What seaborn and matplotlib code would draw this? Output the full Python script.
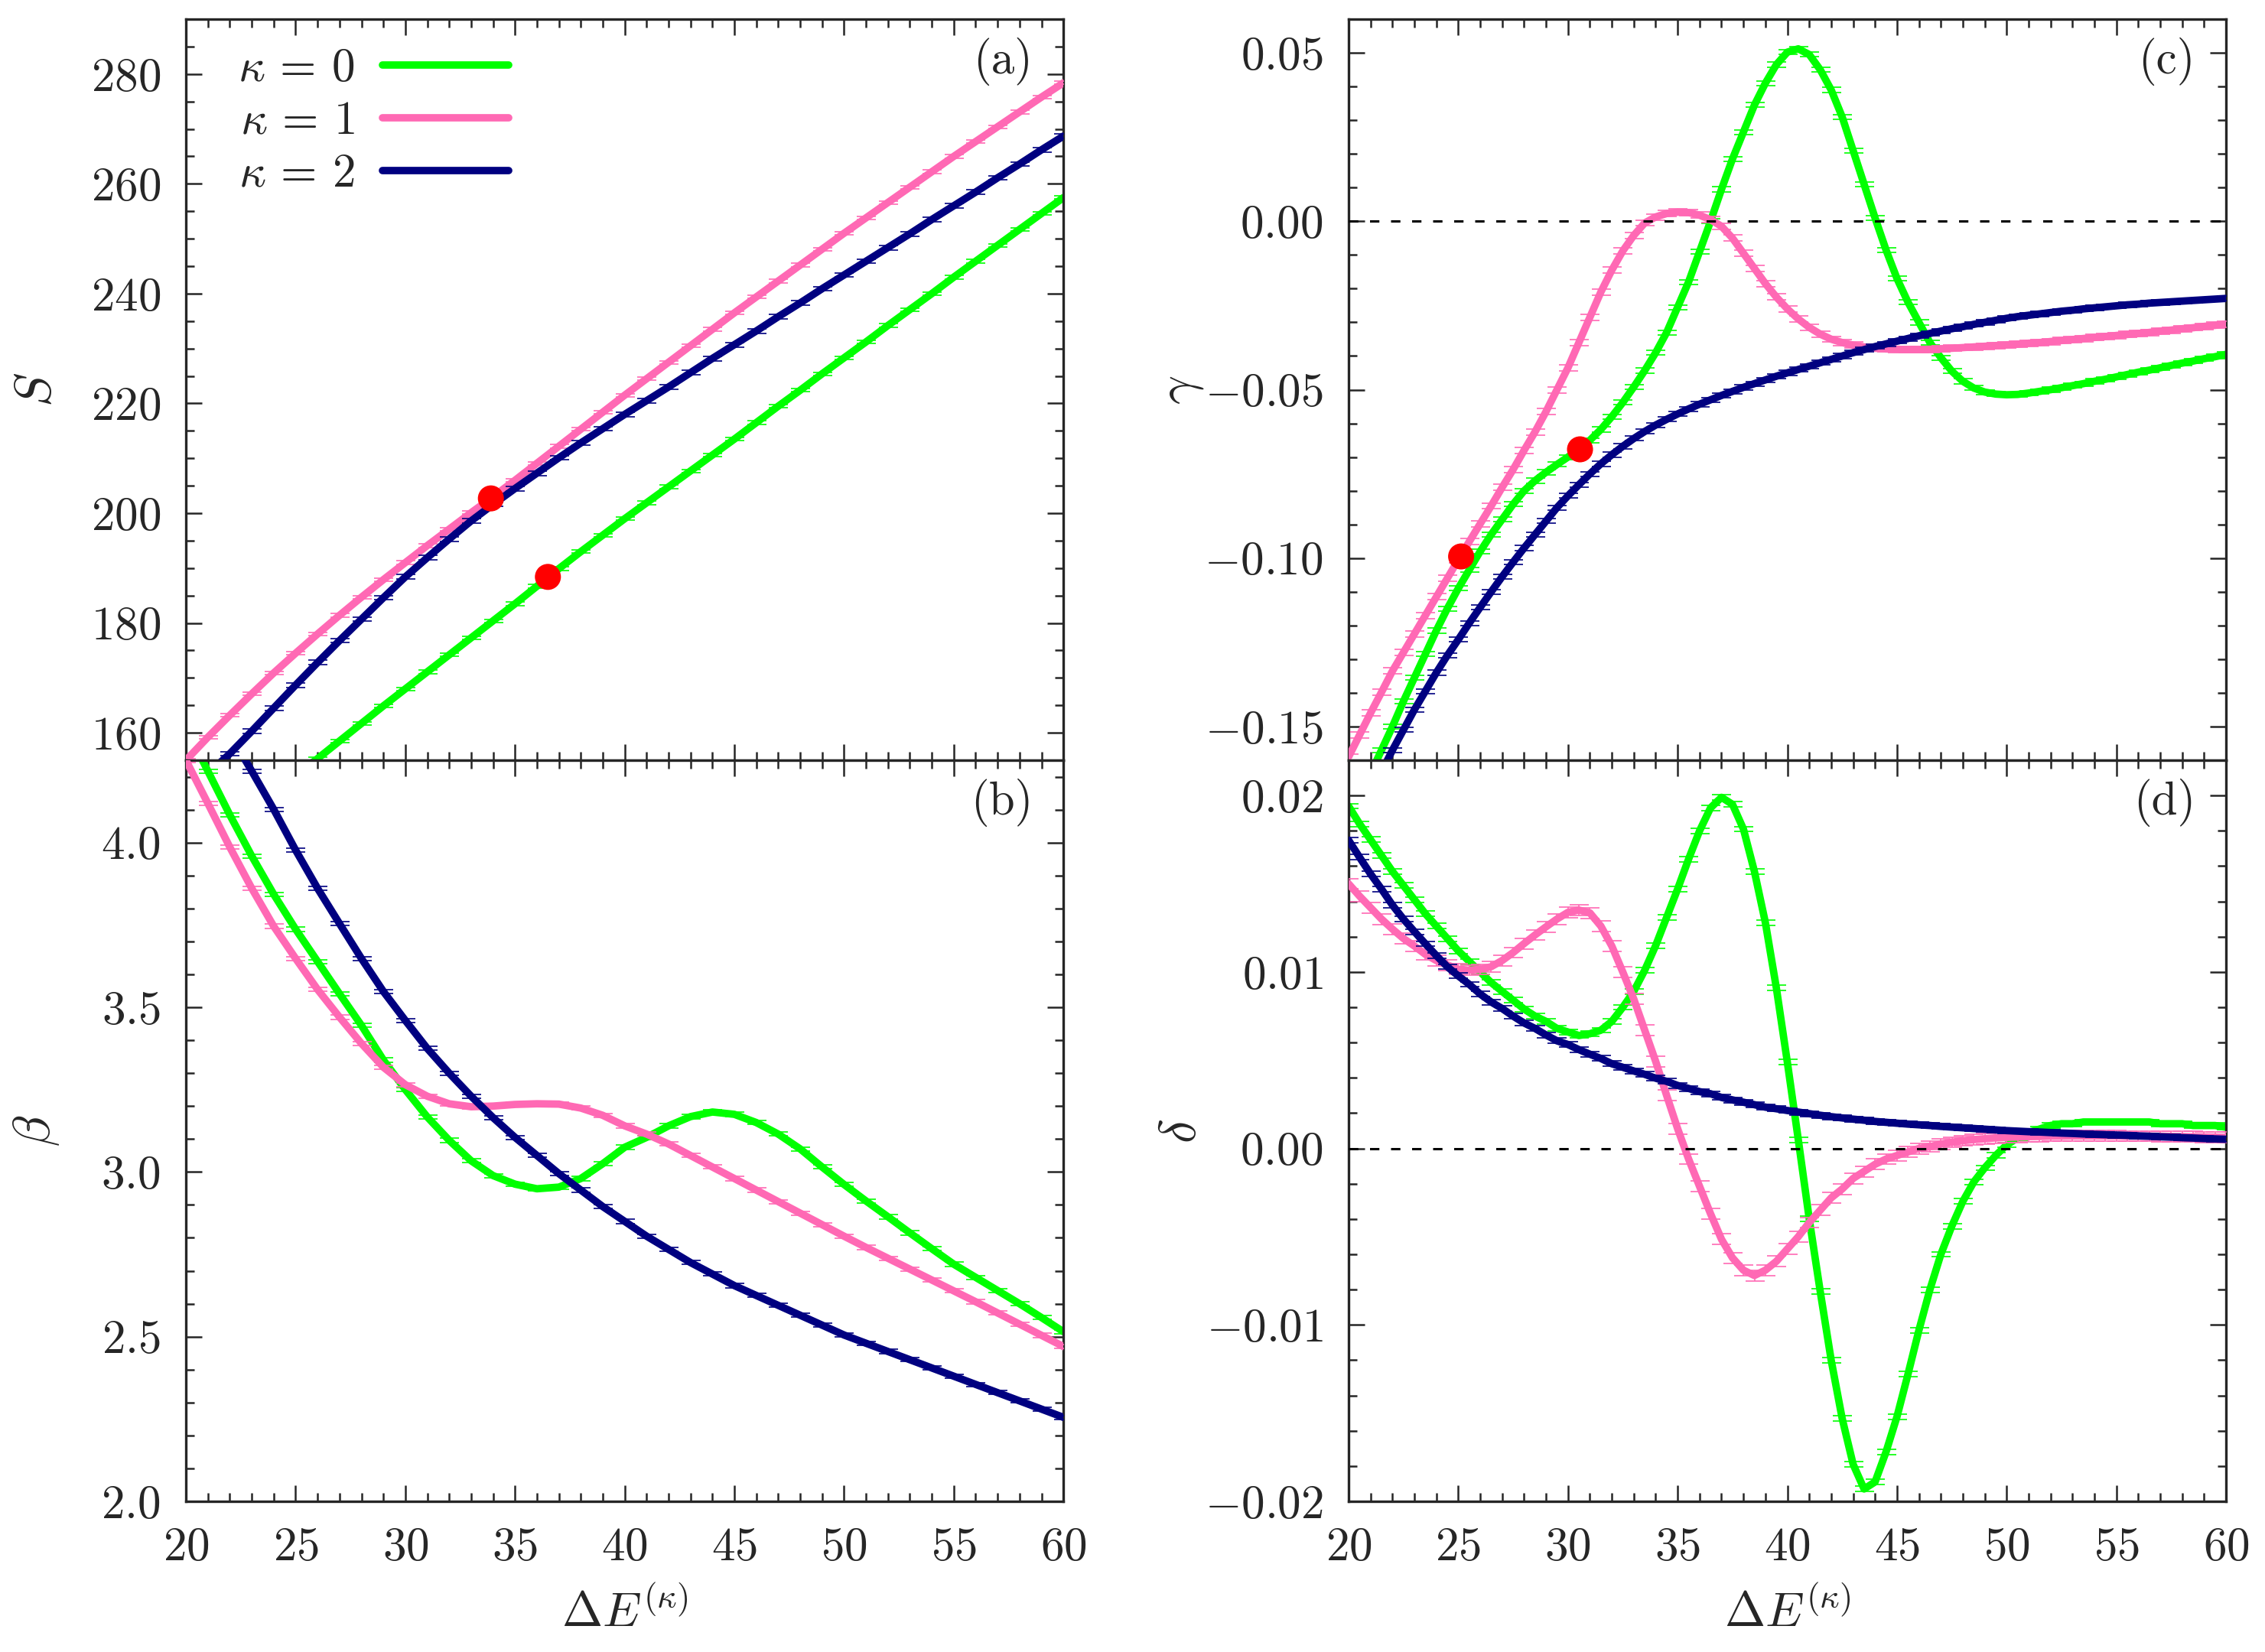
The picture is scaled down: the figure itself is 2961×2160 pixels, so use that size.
import numpy as np
import matplotlib
matplotlib.use("Agg")
import matplotlib.pyplot as plt
from matplotlib.ticker import MultipleLocator, FuncFormatter
import seaborn as sns

sns.set_style("ticks")
plt.rcParams.update({
    "font.family": "serif",
    "font.serif": ["cmr10"],
    "mathtext.fontset": "cm",
    "axes.formatter.use_mathtext": True,
    "axes.linewidth": 1.2,
})

# sampling grids of Delta E
dE_left = np.arange(20, 61, 1.0)
dE_right = np.arange(20, 60.25, 0.5)

labels = ["$\\kappa\\,=\\,0$", "$\\kappa\\,=\\,1$", "$\\kappa\\,=\\,2$"]
colors = ["#00ff00", "#ff69b4", "#000080"]

# panel (a): S
S_k0 = [136.0, 139.2, 142.5, 145.8, 149.0, 152.3, 155.3, 158.5, 161.7, 164.9,
        168.0, 171.1, 174.2, 177.3, 180.4, 183.5, 186.7, 189.9, 193.0, 196.0,
        199.0, 201.9, 204.8, 207.7, 210.6, 213.5, 216.5, 219.5, 222.4, 225.4,
        228.3, 231.2, 234.2, 237.1, 240.0, 243.0, 245.9, 248.8, 251.7, 254.6, 257.5]
S_k1 = [155.0, 159.2, 163.2, 167.1, 170.9, 174.5, 178.0, 181.4, 184.7, 187.9,
        191.0, 194.1, 197.1, 200.1, 203.0, 206.0, 209.1, 212.2, 215.3, 218.4,
        221.5, 224.5, 227.5, 230.5, 233.5, 236.5, 239.4, 242.3, 245.2, 248.1,
        251.0, 253.8, 256.6, 259.4, 262.2, 265.0, 267.7, 270.4, 273.1, 275.8, 278.4]
S_k2 = [148.5, 152.5, 156.2, 160.3, 164.5, 168.7, 172.8, 176.8, 180.7, 184.6,
        188.4, 191.9, 195.3, 198.6, 201.6, 204.5, 207.3, 210.1, 212.8, 215.4,
        218.0, 220.5, 223.0, 225.6, 228.2, 230.7, 233.2, 235.8, 238.3, 240.9,
        243.4, 245.9, 248.4, 250.9, 253.5, 256.0, 258.5, 261.1, 263.6, 266.2, 268.7]

# panel (b): beta
B_k0 = [4.35, 4.217, 4.084, 3.959, 3.843, 3.737, 3.639, 3.541, 3.445, 3.34,
        3.25, 3.167, 3.096, 3.034, 2.989, 2.963, 2.949, 2.954, 2.98, 3.025,
        3.075, 3.105, 3.14, 3.168, 3.182, 3.175, 3.15, 3.115, 3.07, 3.015,
        2.962, 2.912, 2.864, 2.815, 2.767, 2.72, 2.68, 2.64, 2.60, 2.558, 2.515]
B_k1 = [4.25, 4.119, 3.986, 3.861, 3.746, 3.648, 3.554, 3.47, 3.39, 3.318,
        3.265, 3.23, 3.207, 3.198, 3.2, 3.205, 3.207, 3.206, 3.194, 3.172,
        3.14, 3.115, 3.085, 3.05, 3.015, 2.98, 2.945, 2.91, 2.875, 2.84,
        2.805, 2.771, 2.738, 2.705, 2.672, 2.639, 2.606, 2.572, 2.538, 2.504, 2.47]
B_k2 = [4.55, 4.45, 4.33, 4.217, 4.101, 3.977, 3.861, 3.754, 3.648, 3.548,
        3.46, 3.375, 3.30, 3.23, 3.165, 3.105, 3.05, 2.995, 2.945, 2.895,
        2.85, 2.805, 2.765, 2.725, 2.69, 2.655, 2.625, 2.595, 2.565, 2.535,
        2.505, 2.48, 2.455, 2.43, 2.405, 2.38, 2.355, 2.33, 2.305, 2.28, 2.255]

# panel (c): gamma
G_k0 = [-0.180, -0.172, -0.164, -0.157, -0.150, -0.1425, -0.1355, -0.1285, -0.1215, -0.115,
        -0.109, -0.1035, -0.098, -0.093, -0.0885, -0.084, -0.080, -0.077, -0.0745, -0.0722,
        -0.070, -0.0677, -0.065, -0.0618, -0.058, -0.0538, -0.0492, -0.0443, -0.039, -0.033,
        -0.0255, -0.018, -0.009, 0.0, 0.0095, 0.0185, 0.0265, 0.0345, 0.041, 0.0465,
        0.0502, 0.0512, 0.0495, 0.045, 0.039, 0.031, 0.021, 0.011, 0.001, -0.0085,
        -0.017, -0.024, -0.030, -0.036, -0.0405, -0.0445, -0.0475, -0.0495, -0.0507, -0.0513,
        -0.0515, -0.0514, -0.051, -0.0505, -0.050, -0.0494, -0.0488, -0.0482, -0.0475, -0.0469,
        -0.0462, -0.0455, -0.0448, -0.0442, -0.0435, -0.0428, -0.0421, -0.0415, -0.0408, -0.0402,
        -0.0395]
G_k1 = [-0.159, -0.1525, -0.146, -0.1398, -0.1335, -0.128, -0.1225, -0.117, -0.1115, -0.106,
        -0.1005, -0.0951, -0.0898, -0.0845, -0.079, -0.0737, -0.068, -0.0625, -0.0565, -0.050,
        -0.0435, -0.036, -0.0285, -0.021, -0.0145, -0.0088, -0.0042, -0.0005, 0.0013, 0.0023,
        0.0027, 0.0026, 0.0018, 0.0005, -0.0015, -0.005, -0.0095, -0.014, -0.0185, -0.0225,
        -0.026, -0.029, -0.0315, -0.0335, -0.035, -0.036, -0.0368, -0.0373, -0.0377, -0.0379,
        -0.038, -0.0381, -0.0381, -0.038, -0.0379, -0.0377, -0.0375, -0.0373, -0.0371, -0.0369,
        -0.0367, -0.0365, -0.0362, -0.036, -0.0357, -0.0354, -0.0351, -0.0348, -0.0345, -0.0342,
        -0.0339, -0.0336, -0.0333, -0.033, -0.0326, -0.0323, -0.0319, -0.0316, -0.0312, -0.0309,
        -0.0305]
G_k2 = [-0.186, -0.178, -0.1705, -0.1635, -0.157, -0.151, -0.145, -0.1395, -0.134, -0.1289,
        -0.1242, -0.1193, -0.1146, -0.110, -0.1055, -0.1012, -0.097, -0.093, -0.089, -0.085,
        -0.0815, -0.0782, -0.075, -0.072, -0.0693, -0.0668, -0.0645, -0.0624, -0.0605, -0.0588,
        -0.0572, -0.0557, -0.0543, -0.053, -0.0517, -0.0505, -0.0493, -0.0482, -0.0471, -0.046,
        -0.045, -0.044, -0.043, -0.042, -0.041, -0.040, -0.039, -0.0381, -0.0372, -0.0364,
        -0.0356, -0.0348, -0.034, -0.0333, -0.0326, -0.0319, -0.0313, -0.0306, -0.030, -0.0294,
        -0.0288, -0.0283, -0.0279, -0.0275, -0.0271, -0.0267, -0.0264, -0.026, -0.0257, -0.0254,
        -0.0251, -0.0248, -0.0246, -0.0243, -0.0241, -0.0239, -0.0237, -0.0235, -0.0233, -0.0231,
        -0.0229]

# panel (d): delta
D_k0 = [0.0194, 0.0184, 0.0175, 0.0166, 0.0157, 0.0149, 0.0141, 0.0133, 0.0126, 0.0119,
        0.0112, 0.0106, 0.0100, 0.0094, 0.0089, 0.0084, 0.0079, 0.0075, 0.0072, 0.0068,
        0.0066, 0.0064, 0.0065, 0.0067, 0.0072, 0.0080, 0.0089, 0.0101, 0.0115, 0.0131,
        0.0147, 0.0164, 0.0180, 0.0193, 0.0199, 0.0195, 0.0181, 0.0157, 0.0128, 0.0091,
        0.0049, 0.0005, -0.0040, -0.0081, -0.0120, -0.0153, -0.0179, -0.0193, -0.0189, -0.0172,
        -0.0152, -0.0128, -0.0103, -0.0080, -0.0060, -0.0044, -0.0030, -0.0019, -0.0011, -0.0004,
        0.0002, 0.0006, 0.0009, 0.0011, 0.0013, 0.0014, 0.0014, 0.0015, 0.0015, 0.0015,
        0.0015, 0.0015, 0.0015, 0.0015, 0.0014, 0.0014, 0.0014, 0.0013, 0.0013, 0.0013,
        0.0012]
D_k1 = [0.0150, 0.0143, 0.01365, 0.0130, 0.01243, 0.0119, 0.01147, 0.0110, 0.01065, 0.0104,
        0.01016, 0.0101, 0.01015, 0.0103, 0.01065, 0.0111, 0.01161, 0.0121, 0.01256, 0.0130,
        0.01338, 0.01351, 0.01335, 0.0126, 0.01147, 0.0100, 0.00847, 0.0067, 0.00493, 0.0030,
        0.00112, -0.0006, -0.00215, -0.0037, -0.00515, -0.0062, -0.0069, -0.0072, -0.0069, -0.0064,
        -0.0057, -0.0050, -0.0042, -0.0035, -0.0028, -0.0023, -0.0017, -0.0013, -0.0009, -0.0006,
        -0.0004, -0.0002, 0.0, 0.0001, 0.00025, 0.00035, 0.00044, 0.0005, 0.00055, 0.0006,
        0.00063, 0.00065, 0.00067, 0.00068, 0.0007, 0.0007, 0.00071, 0.00071, 0.00071, 0.00071,
        0.00071, 0.0007, 0.0007, 0.0007, 0.00069, 0.00068, 0.00067, 0.00066, 0.00065, 0.00064,
        0.00063]
D_k2 = [0.01747, 0.0165, 0.01556, 0.0147, 0.01379, 0.0130, 0.01229, 0.0116, 0.01093, 0.0103,
        0.00978, 0.0093, 0.00875, 0.0083, 0.00793, 0.0075, 0.00711, 0.0068, 0.00643, 0.0061,
        0.00589, 0.0056, 0.00534, 0.0051, 0.0048, 0.0046, 0.00439, 0.0042, 0.00398, 0.0038,
        0.00357, 0.0034, 0.00322, 0.0031, 0.00289, 0.00275, 0.00262, 0.00248, 0.00234, 0.00225,
        0.00215, 0.00206, 0.00197, 0.00188, 0.0018, 0.00173, 0.00166, 0.0016, 0.00153, 0.00148,
        0.00143, 0.00138, 0.00134, 0.0013, 0.00125, 0.00121, 0.00117, 0.00113, 0.00109, 0.00105,
        0.00101, 0.00098, 0.00095, 0.00093, 0.0009, 0.00087, 0.00085, 0.00082, 0.0008, 0.00078,
        0.00076, 0.00074, 0.00071, 0.00069, 0.00066, 0.00064, 0.00061, 0.00059, 0.00056, 0.00054,
        0.00052]

# error bar half-widths (k=0, 1, 2)
S_err = [0.3, 0.3, 0.4]
B_err = [0.006, 0.006, 0.006]
G_err = [0.0007, 0.0009, 0.0007]
D_err = [0.00015, 0.0003, 0.00015]

# red marked points
dot_a_x = [33.9, 36.5]
dot_a_y = [202.7, 188.4]
dot_c_x = [25.13, 30.55]
dot_c_y = [-0.0995, -0.0677]


def fmt(dec):
    def f(v, pos):
        if abs(v) < 1e-12:
            v = 0.0
        return "$%.*f$" % (dec, v)
    return FuncFormatter(f)


fig = plt.figure(figsize=(14.805, 10.8), dpi=200)
ax_a = fig.add_axes([0.0821, 0.5398, 0.3874, 0.4486])
ax_b = fig.add_axes([0.0821, 0.0912, 0.3874, 0.4486])
ax_c = fig.add_axes([0.5954, 0.5398, 0.3874, 0.4486])
ax_d = fig.add_axes([0.5954, 0.0912, 0.3874, 0.4486])

panels = [
    (ax_a, dE_left, [S_k0, S_k1, S_k2], S_err, (155, 290), 20, 5, 0, "$S$", "(a)", True),
    (ax_b, dE_left, [B_k0, B_k1, B_k2], B_err, (2.0, 4.25), 0.5, 0.1, 1, "$\\beta$", "(b)", False),
    (ax_c, dE_right, [G_k0, G_k1, G_k2], G_err, (-0.16, 0.06), 0.05, 0.01, 2, "$\\gamma$", "(c)", True),
    (ax_d, dE_right, [D_k0, D_k1, D_k2], D_err, (-0.02, 0.022), 0.01, 0.002, 2, "$\\delta$", "(d)", False),
]

for ax, xs, series, errs, ylim, major, minor, dec, ylab, tag, top in panels:
    for i, ys in enumerate(series):
        ax.errorbar(xs, ys, yerr=errs[i], fmt="none", ecolor=colors[i],
                    elinewidth=0.6, capsize=4.5, capthick=0.6, zorder=2 + i)
        sns.lineplot(x=xs, y=ys, color=colors[i], lw=3.5, ax=ax,
                     label=labels[i] if ax is ax_a else None, zorder=2.5 + i)
    ax.set_xlim(20, 60)
    ax.set_ylim(*ylim)
    ax.xaxis.set_major_locator(MultipleLocator(5))
    ax.xaxis.set_minor_locator(MultipleLocator(1))
    ax.yaxis.set_major_locator(MultipleLocator(major))
    ax.yaxis.set_minor_locator(MultipleLocator(minor))
    ax.tick_params(which="both", direction="in", top=True, right=True,
                   width=0.9, labelsize=22, pad=12)
    ax.tick_params(which="major", length=7.5)
    ax.tick_params(which="minor", length=3.8)
    ax.yaxis.set_major_formatter(fmt(dec))
    ax.xaxis.set_major_formatter(fmt(0))
    ax.set_ylabel(ylab, fontsize=24)
    ax.text(0.965, 0.975, tag, transform=ax.transAxes, ha="right", va="top", fontsize=22)
    if top:
        ax.tick_params(labelbottom=False)
        ax.set_xlabel("")
    else:
        ax.set_xlabel("$\\Delta E^{(\\kappa)}$", fontsize=23)
        ax.xaxis.set_label_coords(0.5, -0.118)
    if ax is not ax_a and ax.get_legend() is not None:
        ax.get_legend().remove()

for ax in (ax_a, ax_b):
    ax.yaxis.set_label_coords(-0.142, 0.5)
for ax in (ax_c, ax_d):
    ax.yaxis.set_label_coords(-0.163, 0.5)
    ax.axhline(0.0, color="black", lw=1.1, ls=(0, (4, 5)), zorder=10)

sns.scatterplot(x=dot_a_x, y=dot_a_y, color="red", s=150, edgecolor="none", ax=ax_a, zorder=20)
sns.scatterplot(x=dot_c_x, y=dot_c_y, color="red", s=150, edgecolor="none", ax=ax_c, zorder=20)

handles, labs = ax_a.get_legend_handles_labels()
ax_a.legend(handles, labs, loc="upper left", bbox_to_anchor=(0.022, 1.005), frameon=False,
            markerfirst=False, fontsize=22, handlelength=2.7, handletextpad=0.6,
            labelspacing=0.22, borderaxespad=0.3)

fig.savefig("out.png", dpi=200)
